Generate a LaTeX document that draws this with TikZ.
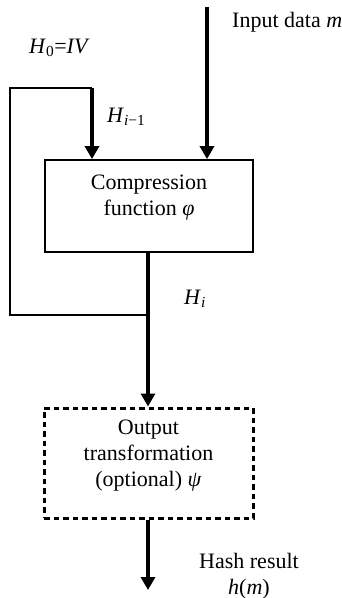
\documentclass[tikz,border=0pt]{standalone}
\usepackage{fontspec}
\setmainfont{Liberation Serif}
\usetikzlibrary{arrows.meta}
\begin{document}
\begin{tikzpicture}[x=1pt,y=-1pt,
  txt/.style={font=\fontsize{22}{26}\selectfont, inner sep=0pt, align=center},
  solidbox/.style={draw, line width=1.8pt, minimum width=208pt, minimum height=92pt, inner sep=0pt},
  dashbox/.style={draw, line width=3pt, dash pattern=on 5.5pt off 4pt, minimum width=209pt, minimum height=110pt, inner sep=0pt},
  flow/.style={line width=3.3pt, -{Triangle[length=13pt,width=14pt]}},
  wire/.style={line width=1.7pt}]
\useasboundingbox (0,0) rectangle (341,598);
% boxes
\node[solidbox] (cf) at (149,206) {};
\node[txt] (cft) at (149,198) {Compression\\function \textit{φ}};
\node[dashbox] (ot) at (148.5,463) {};
\node[txt] (ott) at (148.5,456) {Output\\transformation\\(optional) \textit{ψ}};
% coordinates
\coordinate (in) at (207,7);
\coordinate (fbtop) at (92,88);
\coordinate (fbl) at (10,88);
\coordinate (fbbl) at (10,315);
\coordinate (fbj) at (148,315);
\coordinate (out) at (148,590);
% connectors
\draw[flow] (in) -- (in |- cf.north);
\draw[wire] (fbj) -- (fbbl) -- (fbl) -- (fbtop);
\draw[flow] (fbtop) -- (fbtop |- cf.north);
\draw[flow] (fbj |- cf.south) -- (fbj |- ot.north);
\draw[flow] (fbj |- ot.south) -- (out);
% labels
\node[txt, anchor=base west] (lin) at (232,27) {Input data \textit{m}};
\node[txt, anchor=base west] (lh0) at (29,53) {\textit{H}\textsubscript{0}=\textit{IV}};
\node[txt, anchor=base west] (lhim) at (107,122) {\textit{H}\textsubscript{\textit{i}−1}};
\node[txt, anchor=base west] (lhi) at (184,304) {\textit{H}\textsubscript{\textit{i}}};
\node[txt] (lhash) at (249,576) {Hash result\\\textit{h}(\textit{m})};
\end{tikzpicture}
\end{document}
